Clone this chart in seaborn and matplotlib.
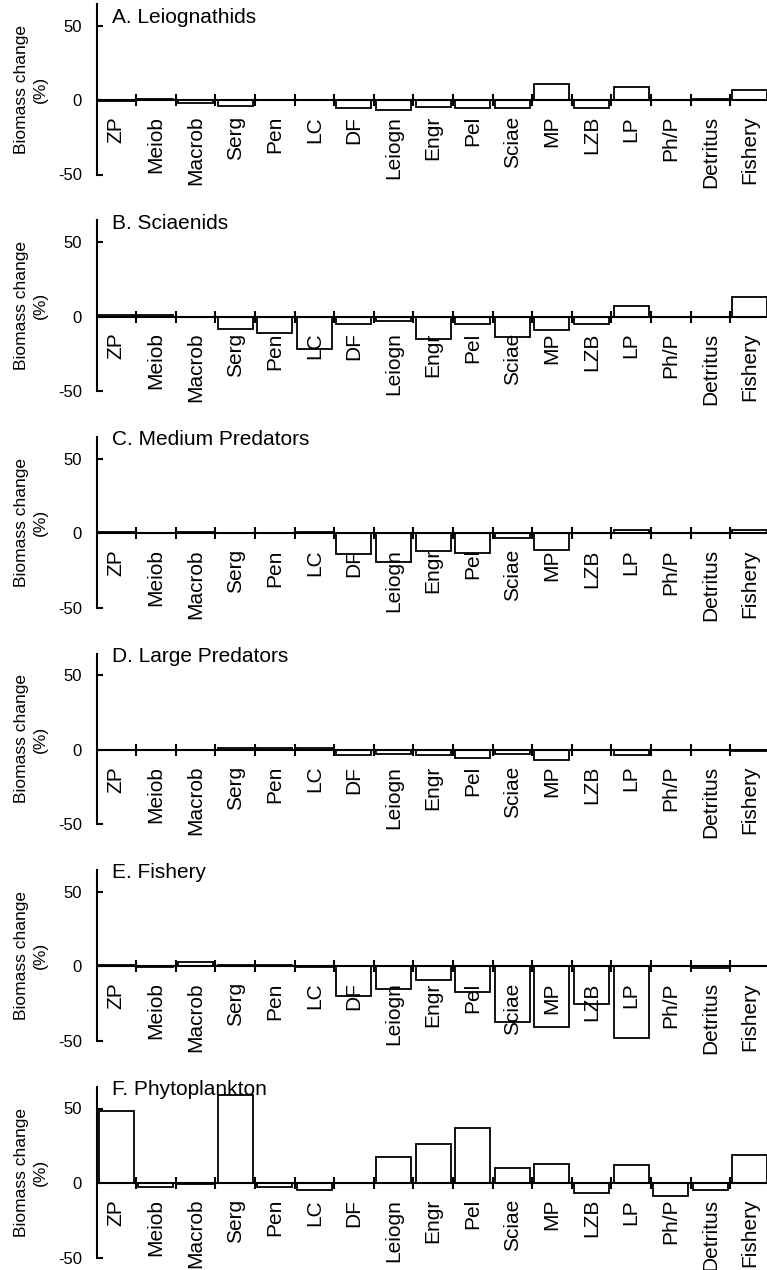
import numpy as np
import pandas as pd
import seaborn as sns
import matplotlib
matplotlib.use("Agg")
import matplotlib.pyplot as plt
import matplotlib.transforms as mtransforms
from matplotlib.ticker import FixedLocator

categories = ["ZP", "Meiob", "Macrob", "Serg", "Pen", "LC", "DF", "Leiogn", "Engr",
              "Pel", "Sciae", "MP", "LZB", "LP", "Ph/P", "Detritus", "Fishery"]

leiognathids = [-1, 1, -2, -4, 0, 0, -5.5, -6.5, -5, -5.5, -5.5, 11, -5.5, 9, 0, 1, 7]
sciaenids = [1, 1, 0, -8, -11, -22, -5, -3, -15, -5, -14, -9, -5, 7, 0, 0, 13]
medium_predators = [1, 0, 1, 0, 0, 1, -14, -19, -12, -13, -3, -11, 0, 2, 0, 0, 2]
large_predators = [0, 0, 0, 1, 1, 1, -3.5, -2.5, -3.5, -5.5, -2.5, -7, 0, -3.5, 0, 0, -1]
fishery = [0.7, -0.7, 3, 0.7, 0.7, -0.7, -20, -15, -9, -17, -37, -41, -25, -48, 0, -1, 0]
phytoplankton = [48.5, -3, -1, 59, -3, -5, 0, 17.5, 26, 37, 10, 13, -7, 12, -9, -5, 19]

panel_titles = ["A. Leiognathids", "B. Sciaenids", "C. Medium Predators",
                "D. Large Predators", "E. Fishery", "F. Phytoplankton"]
panel_values = [leiognathids, sciaenids, medium_predators, large_predators,
                fishery, phytoplankton]
y_ticks = [-50, 0, 50]

sns.set_theme(style="white")
plt.rcParams["font.family"] = ["Liberation Sans", "DejaVu Sans"]
plt.rcParams["text.color"] = "black"
plt.rcParams["axes.labelcolor"] = "black"
plt.rcParams["xtick.color"] = "black"
plt.rcParams["ytick.color"] = "black"

W, H = 767, 1270
fig = plt.figure(figsize=(W / 100, H / 100), dpi=100)

px_per_unit = 1.49
ymin, ymax = -50, 64.5
left_px = 96.5
width_px = 673.2
title_y = [51.5, 59, 59, 59, 59, 59]

for k, (title, vals) in enumerate(zip(panel_titles, panel_values)):
    zero_px = 100 + 216.6 * k
    bottom_px = zero_px + 50 * px_per_unit
    height_px = (ymax - ymin) * px_per_unit
    ax = fig.add_axes([left_px / W, 1 - bottom_px / H, width_px / W, height_px / H])

    df = pd.DataFrame({"group": categories, "change": vals})
    sns.barplot(data=df, x="group", y="change", order=categories, color="white",
                saturation=1, edgecolor="black", linewidth=1.3, width=0.88,
                errorbar=None, ax=ax)
    ax.set_axisbelow(False)

    ax.set_xlim(-0.5, len(categories) - 0.5)
    ax.set_ylim(ymin, ymax)
    ax.set_xlabel("")
    ax.set_ylabel("Biomass change\n(%)", fontsize=12.5, linespacing=1.3)
    ax.yaxis.set_label_coords(-0.072, 0.5)

    for s in ["top", "right"]:
        ax.spines[s].set_visible(False)
    ax.spines["bottom"].set_position(("data", 0))
    ax.spines["bottom"].set_linewidth(1.5)
    ax.spines["left"].set_linewidth(1.5)
    ax.spines["bottom"].set_color("black")
    ax.spines["left"].set_color("black")
    ax.spines["bottom"].set_zorder(5)

    ax.set_yticks(y_ticks)
    ax.set_yticklabels([str(v) for v in y_ticks])
    ax.tick_params(axis="y", which="major", direction="in", length=4, width=1.5,
                   pad=10.5, labelsize=12, left=True)

    ax.set_xticks(range(len(categories)))
    ax.set_xticklabels(categories, rotation=90, fontsize=15)
    ax.tick_params(axis="x", which="major", length=0, pad=11.5)
    ax.xaxis.set_minor_locator(FixedLocator(np.arange(0.5, len(categories) + 0.5, 1.0)))
    ax.tick_params(axis="x", which="minor", direction="inout", length=9, width=1.5,
                   bottom=True)

    trans = mtransforms.blended_transform_factory(ax.transAxes, ax.transData)
    ax.text(0.023, title_y[k], title, transform=trans, ha="left", va="baseline",
            fontsize=15, zorder=6, clip_on=False)

fig.savefig("out.png", dpi=100)
